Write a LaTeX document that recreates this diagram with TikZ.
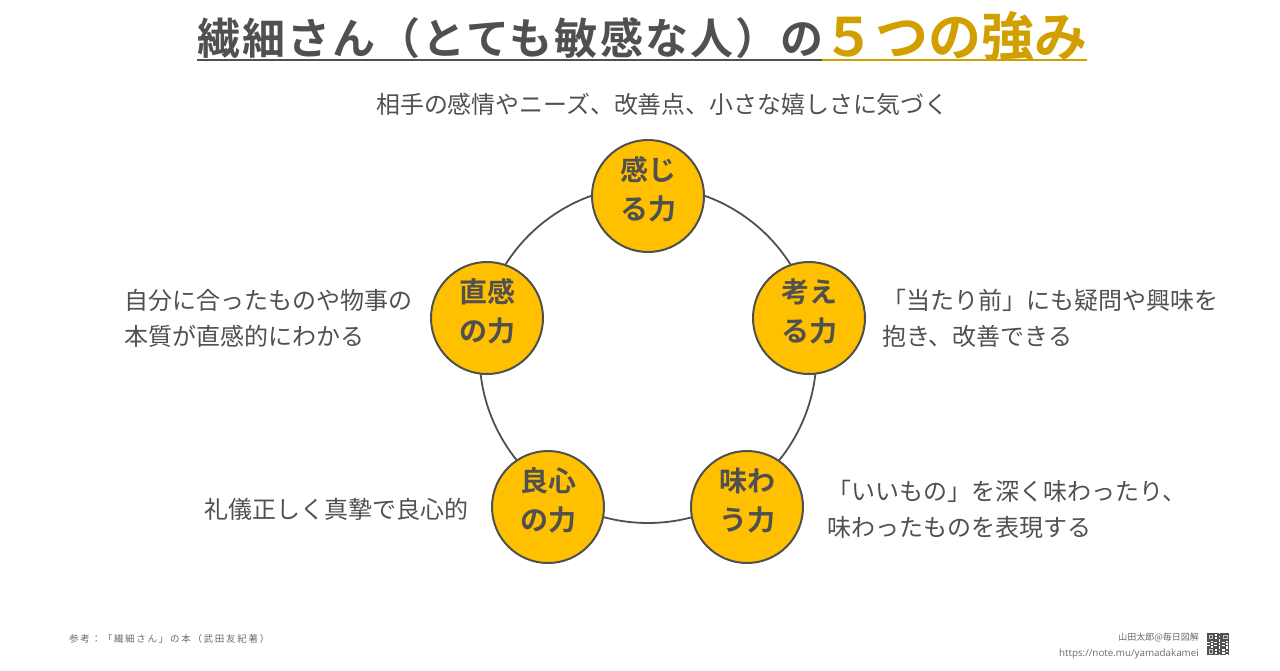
\documentclass[tikz,border=0pt]{standalone}
\usepackage{fontspec}
\setmainfont{Noto Sans CJK JP}[BoldFont={Noto Sans CJK JP Bold}]
\newfontfamily\spaced{Noto Sans CJK JP}[LetterSpace=18]
\newfontfamily\titlefont{Noto Sans CJK JP Bold}[LetterSpace=5]
\newfontfamily\latinf{Open Sans}
\definecolor{ink}{HTML}{505050}
\definecolor{gold}{HTML}{D29F00}
\definecolor{amber}{HTML}{FFC000}
\newcommand{\forcelabel}[2]{\raisebox{-2pt}[0pt][0pt]{\begin{tabular}{@{}c@{}}#1\\#2\end{tabular}}}
\tikzset{
  x=1pt,y=-1pt,
  force/.style={circle,draw=ink,line width=2pt,fill=amber,minimum size=112pt,inner sep=0pt,
    text=ink,font=\fontsize{28}{39}\selectfont\bfseries},
  desc/.style={inner sep=0pt,text=ink,align=left,font=\fontsize{24}{36}\selectfont},
  foot/.style={inner sep=0pt,text=ink!85},
  ring/.style={draw=ink,line width=1.8pt}
}
\begin{document}
\begin{tikzpicture}
\useasboundingbox (0,0) rectangle (1280,670);
\coordinate (c) at (648,354.5);
\draw[ring] (c) circle[radius=168.5];
\node[force] (a) at (648,196) {\forcelabel{感じ}{る力}};
\node[force] (b) at (809,318) {\forcelabel{考え}{る力}};
\node[force] (d) at (747,507) {\forcelabel{味わ}{う力}};
\node[force] (e) at (548,507) {\forcelabel{良心}{の力}};
\node[force] (f) at (487,318) {\forcelabel{直感}{の力}};
\node[inner sep=0pt,anchor=west,text=ink,font=\titlefont\fontsize{43}{50}\selectfont] (t1) at (197,38) {繊細さん（とても敏感な人）の};
\node[inner sep=0pt,anchor=west,text=gold,font=\fontsize{53}{56}\selectfont\bfseries] (t2) at (822,36) {５つの強み};
\draw[ink,line width=2.2pt] (197,60) -- (822,60);
\draw[gold,line width=2.2pt] (822,60) -- (1087,60);
\node[desc,anchor=west,font=\fontsize{23.9}{36}\selectfont] (da) at (376,104) {相手の感情やニーズ、改善点、小さな嬉しさに気づく};
\node[desc,anchor=west] (db) at (882,318) {\hspace*{0pt}「当たり前」にも疑問や興味を\\抱き、改善できる};
\node[desc,anchor=west] (dd) at (827,509) {「いいもの」を深く味わったり、\\味わったものを表現する};
\node[desc,anchor=west] (de) at (204,509) {礼儀正しく真摯で良心的};
\node[desc,anchor=west] (df) at (124,318) {自分に合ったものや物事の\\本質が直感的にわかる};
\node[foot,anchor=west,font=\spaced\fontsize{9.5}{12}\selectfont] (r) at (69,639) {参考：「繊細さん」の本（武田友紀著）};
\node[foot,anchor=east,font=\fontsize{9}{12}\selectfont] (n) at (1199,637) {山田太郎@毎日図解};
\node[foot,anchor=east,font=\latinf\fontsize{9.8}{12}\selectfont] (u) at (1199,654) {https://note.mu/yamadakamei};
% QR code
\fill[ink] (1207,633) rectangle (1229,655);
\foreach \i in {0,...,14}{\foreach \j in {0,...,14}{
  \pgfmathtruncatemacro{\v}{mod(\i*\i*7+\j*\j*11+mod(\i*\j*\j,13)*5+\i*3+\j+3,5)}
  \ifnum\v<2 \fill[white] (1207+1.4667*\i,633+1.4667*\j) rectangle ++(1.4667,1.4667);\fi
}}
\foreach \x/\y in {1207/633,1221.5/633,1207/647.5}{
  \fill[ink] (\x,\y) rectangle ++(7.5,7.5);
  \fill[ink!35] (\x+1.5,\y+1.5) rectangle ++(4.5,4.5);
  \fill[ink] (\x+2.5,\y+2.5) rectangle ++(2.5,2.5);
}
\end{tikzpicture}
\end{document}
